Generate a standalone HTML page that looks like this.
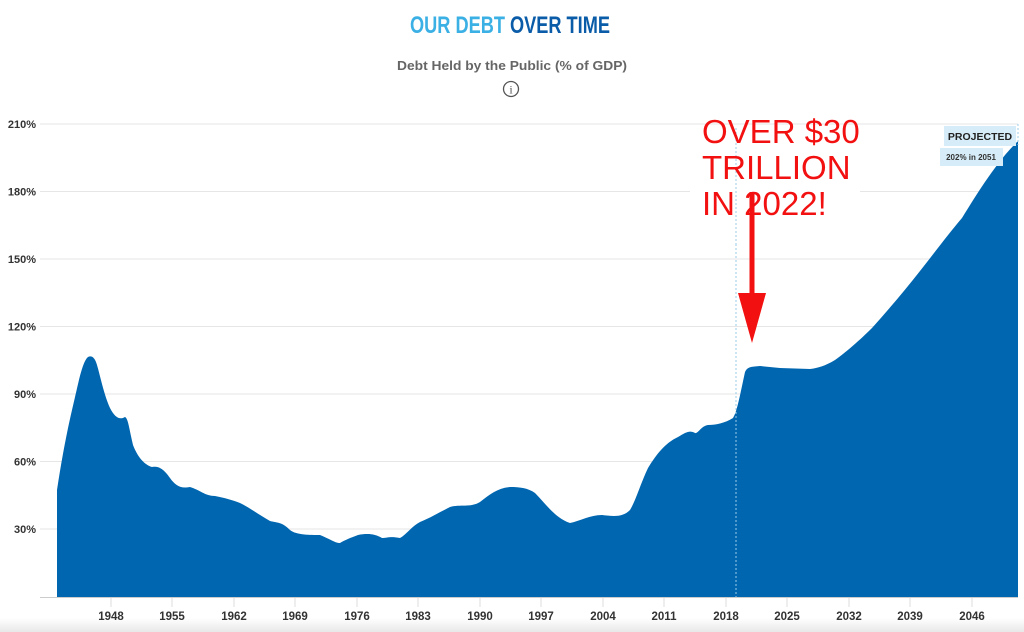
<!DOCTYPE html>
<html><head><meta charset="utf-8"><style>
body{margin:0;background:#fff;width:1024px;height:632px;overflow:hidden;font-family:"Liberation Sans",sans-serif}
</style></head><body>
<svg width="1024" height="632" xmlns="http://www.w3.org/2000/svg" style="position:absolute;left:0;top:0">
<defs><linearGradient id="g" x1="0" y1="0" x2="0" y2="1"><stop offset="0" stop-color="#fff"/><stop offset="1" stop-color="#e8e8e8"/></linearGradient></defs>
<rect x="0" y="618" width="1024" height="14" fill="url(#g)"/>
<text x="410" y="33" textLength="200" lengthAdjust="spacingAndGlyphs" font-weight="bold" font-size="24"><tspan fill="#3bb0e4">OUR DEBT </tspan><tspan fill="#0a5ca8">OVER TIME</tspan></text>
<text x="397" y="70" textLength="230" lengthAdjust="spacingAndGlyphs" font-weight="bold" font-size="12.5" fill="#666">Debt Held by the Public (% of GDP)</text>
<circle cx="511" cy="89" r="7.5" fill="none" stroke="#555" stroke-width="1.3"/>
<text x="511" y="93.5" text-anchor="middle" font-family="Liberation Serif,serif" font-size="12" fill="#555">i</text>
<g stroke="#e6e6e6" stroke-width="1">
<line x1="40" y1="124" x2="1018" y2="124"/><line x1="40" y1="191.5" x2="1018" y2="191.5"/><line x1="40" y1="259" x2="1018" y2="259"/><line x1="40" y1="326.5" x2="1018" y2="326.5"/><line x1="40" y1="394" x2="1018" y2="394"/><line x1="40" y1="461.5" x2="1018" y2="461.5"/><line x1="40" y1="529" x2="1018" y2="529"/>
</g>
<g font-size="11" fill="#333" text-anchor="end" font-weight="bold">
<text x="36" y="128">210%</text><text x="36" y="195.5">180%</text><text x="36" y="263">150%</text><text x="36" y="330.5">120%</text><text x="36" y="398">90%</text><text x="36" y="465.5">60%</text><text x="36" y="533">30%</text>
</g>
<path fill="#0066b0" d="M57,597 L57,490 C60,470 65,440 72,410 C78,385 82,362 88,357 C92,355 95,358 97,365 C100,375 104,395 110,408 C115,418 120,420 125,417 C128,418 129,428 133,445 C138,458 145,465 152,467 C158,466 163,468 170,478 C175,485 180,489 190,487 C200,490 205,496 215,496 C225,498 232,500 240,503 C250,508 258,514 270,521 C278,523 282,522 290,530 C296,535 310,535 320,535 C330,539 335,543 340,543 C345,540 350,538 358,535 C368,533 375,534 382,538 C387,538 390,536 400,538 C406,535 412,526 420,522 C430,518 440,512 450,507 C460,504 470,508 480,502 C490,494 498,488 510,487 C520,487 528,488 535,493 C545,503 555,518 570,523 C580,521 590,515 602,515 C612,516 622,518 630,510 C636,500 640,485 648,468 C656,455 665,443 678,437 C686,432 690,430 695,433 C698,434 701,426 708,425 C716,425 725,423 733,418 C737,412 740,395 745,372 C748,366 752,367 760,366 L780,368 L810,369 C818,368 825,366 835,360 C845,353 860,340 872,328 C890,308 905,290 920,271 C935,252 950,232 962,218 C978,192 998,160 1018,141 L1018,597 Z"/>
<line x1="736" y1="128" x2="736" y2="597" stroke="#9ccbe8" stroke-width="1" stroke-dasharray="2,2"/>
<line x1="1018" y1="124" x2="1018" y2="145" stroke="#9ccbe8" stroke-width="1" stroke-dasharray="2,2"/>
<line x1="40" y1="597.5" x2="1018" y2="597.5" stroke="#ccc"/>
<g stroke="#ddd"><line x1="111" y1="598" x2="111" y2="607"/><line x1="172" y1="598" x2="172" y2="607"/><line x1="234" y1="598" x2="234" y2="607"/><line x1="295" y1="598" x2="295" y2="607"/><line x1="357" y1="598" x2="357" y2="607"/><line x1="418" y1="598" x2="418" y2="607"/><line x1="480" y1="598" x2="480" y2="607"/><line x1="541" y1="598" x2="541" y2="607"/><line x1="603" y1="598" x2="603" y2="607"/><line x1="664" y1="598" x2="664" y2="607"/><line x1="726" y1="598" x2="726" y2="607"/><line x1="787" y1="598" x2="787" y2="607"/><line x1="849" y1="598" x2="849" y2="607"/><line x1="910" y1="598" x2="910" y2="607"/><line x1="972" y1="598" x2="972" y2="607"/></g>
<g font-size="11.5" fill="#333" text-anchor="middle" font-weight="bold">
<text x="111" y="620">1948</text><text x="172" y="620">1955</text><text x="234" y="620">1962</text><text x="295" y="620">1969</text><text x="357" y="620">1976</text><text x="418" y="620">1983</text><text x="480" y="620">1990</text><text x="541" y="620">1997</text><text x="603" y="620">2004</text><text x="664" y="620">2011</text><text x="726" y="620">2018</text><text x="787" y="620">2025</text><text x="849" y="620">2032</text><text x="910" y="620">2039</text><text x="972" y="620">2046</text>
</g>
<rect x="690" y="135" width="170" height="110" fill="#fff"/>
<line x1="736" y1="135" x2="736" y2="245" stroke="#9ccbe8" stroke-dasharray="2,2"/>
<g font-size="33" fill="#f21010"><text x="702" y="143">OVER $30</text><text x="702" y="179">TRILLION</text><text x="702" y="215">IN 2022!</text></g>
<rect x="749.5" y="192" width="5" height="102" fill="#f21010"/>
<polygon points="738,293 766,293 752,343" fill="#f21010"/>
<rect x="944" y="126" width="72" height="20" fill="#d6ecf8"/>
<text x="980" y="140" text-anchor="middle" font-weight="bold" font-size="10.5" fill="#222">PROJECTED</text>
<rect x="940" y="148" width="63" height="18" fill="#d6ecf8"/>
<text x="971" y="160" text-anchor="middle" font-size="8" font-weight="bold" fill="#333">202% in 2051</text>
</svg>
</body></html>
